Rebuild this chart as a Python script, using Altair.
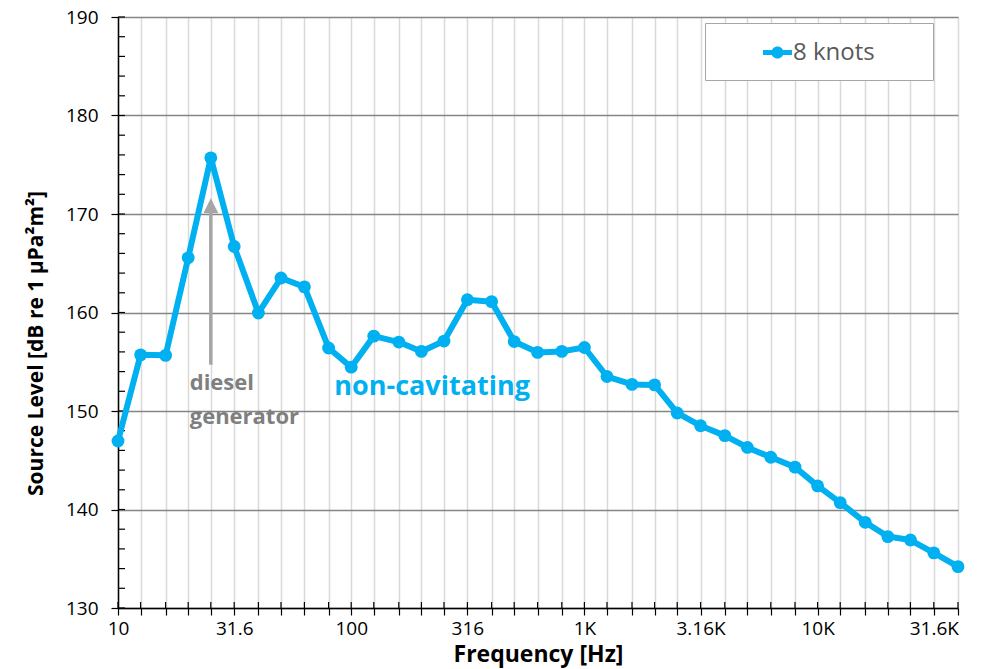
import altair as alt
import pandas as pd

# 1/3-octave band centre frequencies [Hz]
freqs = [10, 12.5, 16, 20, 25, 31.5, 40, 50, 63, 80, 100, 125, 160, 200, 250,
         315, 400, 500, 630, 800, 1000, 1250, 1600, 2000, 2500, 3150, 4000,
         5000, 6300, 8000, 10000, 12500, 16000, 20000, 25000, 31500, 40000]
# Source level [dB re 1 uPa^2 m^2] at 8 knots
levels = [146.95, 155.7, 155.65, 165.55, 175.7, 166.7, 159.95, 163.5, 162.6,
          156.4, 154.45, 157.6, 157.0, 156.05, 157.1, 161.3, 161.1, 157.05,
          155.95, 156.05, 156.45, 153.5, 152.7, 152.65, 149.8, 148.5, 147.5,
          146.3, 145.3, 144.3, 142.4, 140.7, 138.7, 137.25, 136.9, 135.6, 134.2]
series_name = "8 knots"

y_major = [130, 140, 150, 160, 170, 180, 190]
y_minor = [130, 132, 134, 136, 138, 140, 142, 144, 146, 148, 150, 152, 154, 156,
           158, 160, 162, 164, 166, 168, 170, 172, 174, 176, 178, 180, 182, 184,
           186, 188, 190]
x_label_map = [(10, "10"), (31.5, "31.6"), (100, "100"), (315, "316"),
               (1000, "1K"), (3150, "3.16K"), (10000, "10K"), (31500, "31.6K")]

# annotations
arrow_freq = 25
arrow_from, arrow_to, arrow_head = 154.7, 170.2, 170.85
diesel_pos = (20.3, 152.1)
noncav_pos = (84.6, 151.6)

W, H = 840, 591
FONT = "Open Sans"
CYAN = "#00B0F0"

df = pd.DataFrame({"freq": freqs, "level": levels, "series": series_name})

label_expr = "".join(f"datum.value == {v} ? '{t}' : " for v, t in x_label_map) + "''"

xscale = alt.Scale(type="log", domain=[10, 40000], nice=False)
yscale = alt.Scale(domain=[130, 190], nice=False, zero=False)

x_axis = alt.Axis(values=freqs, labelExpr=label_expr, grid=True, gridColor="#d9d9d9",
                  gridWidth=1.5, tickColor="#000", tickSize=7, tickWidth=1.2,
                  domainColor="#000", domainWidth=1.5, labelFontSize=19,
                  labelColor="#000", labelPadding=4, labelFlush=False,
                  labelOverlap=False, labelFont=FONT,
                  title="Frequency [Hz]", titleFontSize=23, titleFontWeight="bold",
                  titleFont=FONT, titleColor="#000", titleX=420, titleY=53,
                  titleBaseline="alphabetic")
y_axis = alt.Axis(values=y_major, grid=True, gridColor="#858585", gridWidth=1.3,
                  tickColor="#000", tickSize=7, tickWidth=1.2, domainColor="#000",
                  domainWidth=1.5, labelFontSize=19, labelColor="#000",
                  labelPadding=13, labelFont=FONT, labelFlush=False,
                  title="Source Level [dB re 1 µPa²m²]", titleFontSize=21,
                  titleFontWeight="bold", titleFont=FONT, titleColor="#000",
                  titleX=-76, titleY=326, titleBaseline="alphabetic")

base = alt.Chart(df)

line = base.mark_line(color=CYAN, strokeWidth=6, strokeJoin="round", strokeCap="round").encode(
    x=alt.X("freq:Q", scale=xscale, axis=x_axis),
    y=alt.Y("level:Q", scale=yscale, axis=y_axis),
)

legend_symbol = ("M-1,-0.17 L1,-0.17 L1,0.17 L-1,0.17 Z "
                 "M0.42,0 A0.42,0.42 0 1,1 -0.42,0 A0.42,0.42 0 1,1 0.42,0 Z")

points = base.mark_circle(size=165, opacity=1).encode(
    x="freq:Q", y="level:Q",
    color=alt.Color("series:N", scale=alt.Scale(domain=[series_name], range=[CYAN]),
                    legend=alt.Legend(title="xxxxx", titleOrient="right", titleOpacity=0,
                                      titleFontSize=14, titlePadding=2,
                                      orient="none", legendX=587, legendY=6,
                                      padding=15, strokeColor="#a6a6a6", fillColor="#fff",
                                      symbolType=legend_symbol, symbolSize=841,
                                      symbolOffset=43, labelOffset=1,
                                      symbolStrokeWidth=0,
                                      labelFont=FONT, labelFontSize=24,
                                      labelColor="#595959")),
)

xt = pd.DataFrame({"freq": freqs})
yt = pd.DataFrame({"level": y_minor})
x_inner_ticks = alt.Chart(xt).mark_rule(color="#000", strokeWidth=1.2).encode(
    x="freq:Q", y=alt.value(H - 6), y2=alt.value(H))
y_inner_ticks = alt.Chart(yt).mark_rule(color="#000", strokeWidth=1.2).encode(
    y="level:Q", x=alt.value(0), x2=alt.value(7))

ann = pd.DataFrame({"freq": [arrow_freq], "y1": [arrow_from], "y2": [arrow_to],
                    "yh": [arrow_head]})
shaft = alt.Chart(ann).mark_rule(color="#a6a6a6", strokeWidth=3.5).encode(
    x="freq:Q", y="y1:Q", y2="y2:Q")
head = alt.Chart(ann).mark_point(shape="M0,-1 L1,1 L-1,1 Z", filled=True, size=225,
                                 color="#a6a6a6", opacity=1).encode(
    x="freq:Q", y="yh:Q")

txt1 = pd.DataFrame({"freq": [diesel_pos[0]], "level": [diesel_pos[1]],
                     "t": [["diesel", "generator"]]})
diesel = alt.Chart(txt1).mark_text(align="left", baseline="alphabetic", font=FONT,
                                   fontSize=22, fontWeight="bold", color="#7f7f7f",
                                   lineHeight=34).encode(
    x="freq:Q", y="level:Q", text="t")
txt2 = pd.DataFrame({"freq": [noncav_pos[0]], "level": [noncav_pos[1]],
                     "t": ["non-cavitating"]})
noncav = alt.Chart(txt2).mark_text(align="left", baseline="alphabetic", font=FONT,
                                   fontSize=27, fontWeight="bold", color=CYAN).encode(
    x="freq:Q", y="level:Q", text="t:N")

chart = alt.layer(x_inner_ticks, y_inner_ticks, shaft, head, diesel, noncav, line, points).properties(
    width=W, height=H, autosize="none",
    padding={"left": 118, "top": 17, "right": 23, "bottom": 61},
    background="#ffffff",
).configure_view(stroke="#000", strokeWidth=1.5).configure(font=FONT)

chart.save("out.html", embed_options={"renderer": "svg", "actions": False})
